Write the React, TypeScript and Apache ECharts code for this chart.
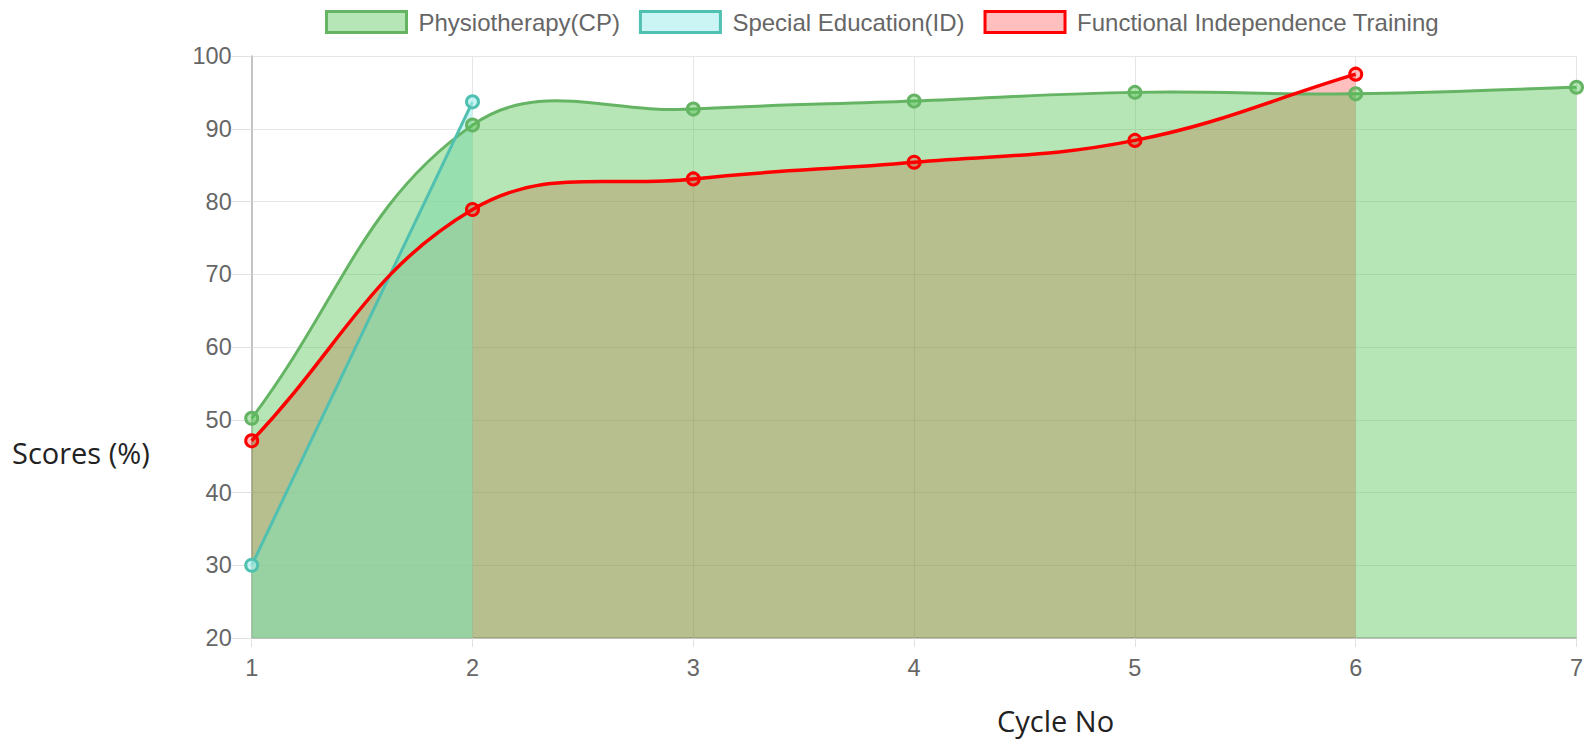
import React, { useEffect, useRef } from "react";
import * as echarts from "echarts";

const cycles = ["1", "2", "3", "4", "5", "6", "7"];
const physiotherapy = [50.2, 90.5, 92.7, 93.8, 95.0, 94.8, 95.7];
const specialEducation = [30.0, 93.7];
const functionalTraining = [47.1, 78.9, 83.1, 85.4, 88.4, 97.5];

const NAME_P = "Physiotherapy(CP)";
const NAME_S = "Special Education(ID)";
const NAME_F = "Functional Independence Training";

const yTicksMin = 20;
const yTicksMax = 100;
const yInterval = 10;

const GREEN_LINE = "#64b464";
const GREEN_FILL = "rgba(76,192,72,0.4)";
const TEAL_LINE = "#50c0b0";
const TEAL_FILL = "rgba(175,238,238,0.65)";
const RED_LINE = "#ff0000";
const RED_FILL = "rgba(255,0,0,0.25)";

const TENSION = 0.4;

const SANS = "'Liberation Sans', Arial, Helvetica, sans-serif";
const TITLE_FONT = "'Open Sans', 'Noto Sans', sans-serif";

type Pt = { x: number; y: number };

// Chart.js-style cubic spline (tension-based control points)
function splinePath(pts: Pt[], area: { x: number; y: number; width: number; height: number }) {
  const n = pts.length;
  const cps: { prev: Pt; next: Pt }[] = [];
  const clamp = (p: Pt): Pt => ({
    x: Math.min(Math.max(p.x, area.x), area.x + area.width),
    y: Math.min(Math.max(p.y, area.y), area.y + area.height),
  });
  for (let i = 0; i < n; i++) {
    const prev = pts[i - 1] || pts[i];
    const cur = pts[i];
    const next = pts[i + 1] || pts[i];
    const d01 = Math.hypot(cur.x - prev.x, cur.y - prev.y);
    const d12 = Math.hypot(next.x - cur.x, next.y - cur.y);
    let s01 = d01 / (d01 + d12);
    let s12 = d12 / (d01 + d12);
    if (isNaN(s01)) s01 = 0;
    if (isNaN(s12)) s12 = 0;
    const fa = TENSION * s01;
    const fb = TENSION * s12;
    cps.push({
      prev: clamp({ x: cur.x - fa * (next.x - prev.x), y: cur.y - fa * (next.y - prev.y) }),
      next: clamp({ x: cur.x + fb * (next.x - prev.x), y: cur.y + fb * (next.y - prev.y) }),
    });
  }
  let d = `M ${pts[0].x} ${pts[0].y}`;
  for (let i = 1; i < n; i++) {
    const a = cps[i - 1].next;
    const b = cps[i].prev;
    d += ` C ${a.x} ${a.y} ${b.x} ${b.y} ${pts[i].x} ${pts[i].y}`;
  }
  return d;
}

function toPoints(values: number[], api: any): Pt[] {
  return values.map((v, i) => {
    const c = api.coord([i, v]);
    return { x: c[0], y: c[1] };
  });
}

function areaSeries(name: string, values: number[], fill: string) {
  return {
    name,
    type: "custom",
    z: 1,
    silent: true,
    clip: false,
    data: values.map((v, i) => [i, v]),
    encode: { x: 0, y: 1 },
    itemStyle: { color: fill },
    renderItem: (params: any, api: any) => {
      if (params.dataIndex !== 0) return null;
      const cs = params.coordSys;
      const pts = toPoints(values, api);
      const bottom = api.coord([0, yTicksMin])[1];
      const d =
        splinePath(pts, cs) +
        ` L ${pts[pts.length - 1].x} ${bottom} L ${pts[0].x} ${bottom} Z`;
      return {
        type: "path",
        shape: { pathData: d },
        style: { fill, stroke: "none" },
        silent: true,
      };
    },
  };
}

function lineSeries(name: string, values: number[], line: string, fill: string, width: number, z: number) {
  return {
    name,
    type: "custom",
    z,
    clip: false,
    data: values.map((v, i) => [i, v]),
    encode: { x: 0, y: 1 },
    itemStyle: { color: line },
    renderItem: (params: any, api: any) => {
      if (params.dataIndex !== 0) return null;
      const cs = params.coordSys;
      const pts = toPoints(values, api);
      const children: any[] = [
        {
          type: "path",
          shape: { pathData: splinePath(pts, cs) },
          style: { fill: "none", stroke: line, lineWidth: width, lineJoin: "round" },
        },
      ];
      pts.forEach((p) => {
        children.push({
          type: "circle",
          shape: { cx: p.x, cy: p.y, r: 6 },
          style: { fill, stroke: line, lineWidth: 3 },
        });
      });
      return { type: "group", children };
    },
  };
}

export default function App() {
  const ref = useRef<HTMLDivElement>(null);

  useEffect(() => {
    document.body.style.margin = "0";
    if (!ref.current) return;
    const chart = echarts.init(ref.current, undefined, { renderer: "svg" });
    chart.setOption({
      animation: false,
      backgroundColor: "#ffffff",
      legend: {
        top: 5,
        left: 320,
        icon: "rect",
        itemWidth: 80,
        itemHeight: 21,
        itemGap: 19,
        textStyle: {
          fontSize: 24,
          color: "#666666",
          fontFamily: SANS,
          padding: [0, 0, 0, 7],
        },
        data: [
          { name: NAME_P, itemStyle: { color: GREEN_FILL, borderColor: GREEN_LINE, borderWidth: 3 } },
          { name: NAME_S, itemStyle: { color: TEAL_FILL, borderColor: TEAL_LINE, borderWidth: 3 } },
          { name: NAME_F, itemStyle: { color: RED_FILL, borderColor: RED_LINE, borderWidth: 3 } },
        ],
      },
      grid: { left: 251.7, top: 56, width: 1324.8, height: 582, containLabel: false },
      xAxis: {
        type: "category",
        data: cycles,
        boundaryGap: false,
        axisLine: { show: true, lineStyle: { color: "#b3b3b3", width: 1.5 } },
        axisTick: { show: true, length: 9, lineStyle: { color: "#e0e0e0" } },
        axisLabel: { margin: 18, fontSize: 23.5, color: "#666666", fontFamily: SANS },
        splitLine: { show: true, lineStyle: { color: "#e6e6e6", width: 1 } },
      },
      yAxis: {
        type: "value",
        min: yTicksMin,
        max: yTicksMax,
        interval: yInterval,
        axisLine: { show: true, lineStyle: { color: "#b3b3b3", width: 1.5 } },
        axisTick: { show: true, length: 20, lineStyle: { color: "#e0e0e0" } },
        axisLabel: { margin: 20, fontSize: 23.5, color: "#666666", fontFamily: SANS },
        splitLine: { show: true, lineStyle: { color: "#e6e6e6", width: 1 } },
      },
      graphic: [
        {
          type: "text",
          left: 12,
          top: 438,
          style: {
            text: "Scores (%)",
            font: `29px ${TITLE_FONT}`,
            fill: "#222222",
          },
        },
        {
          type: "text",
          left: 997,
          top: 706,
          style: {
            text: "Cycle No",
            font: `29px ${TITLE_FONT}`,
            fill: "#222222",
          },
        },
      ],
      series: [
        areaSeries(NAME_F, functionalTraining, RED_FILL),
        areaSeries(NAME_S, specialEducation, TEAL_FILL),
        areaSeries(NAME_P, physiotherapy, GREEN_FILL),
        lineSeries(NAME_P, physiotherapy, GREEN_LINE, GREEN_FILL, 3, 3),
        lineSeries(NAME_S, specialEducation, TEAL_LINE, TEAL_FILL, 3, 4),
        lineSeries(NAME_F, functionalTraining, RED_LINE, RED_FILL, 3.5, 5),
      ],
    });
    return () => chart.dispose();
  }, []);

  return <div ref={ref} style={{ width: 1588, height: 747 }} />;
}
